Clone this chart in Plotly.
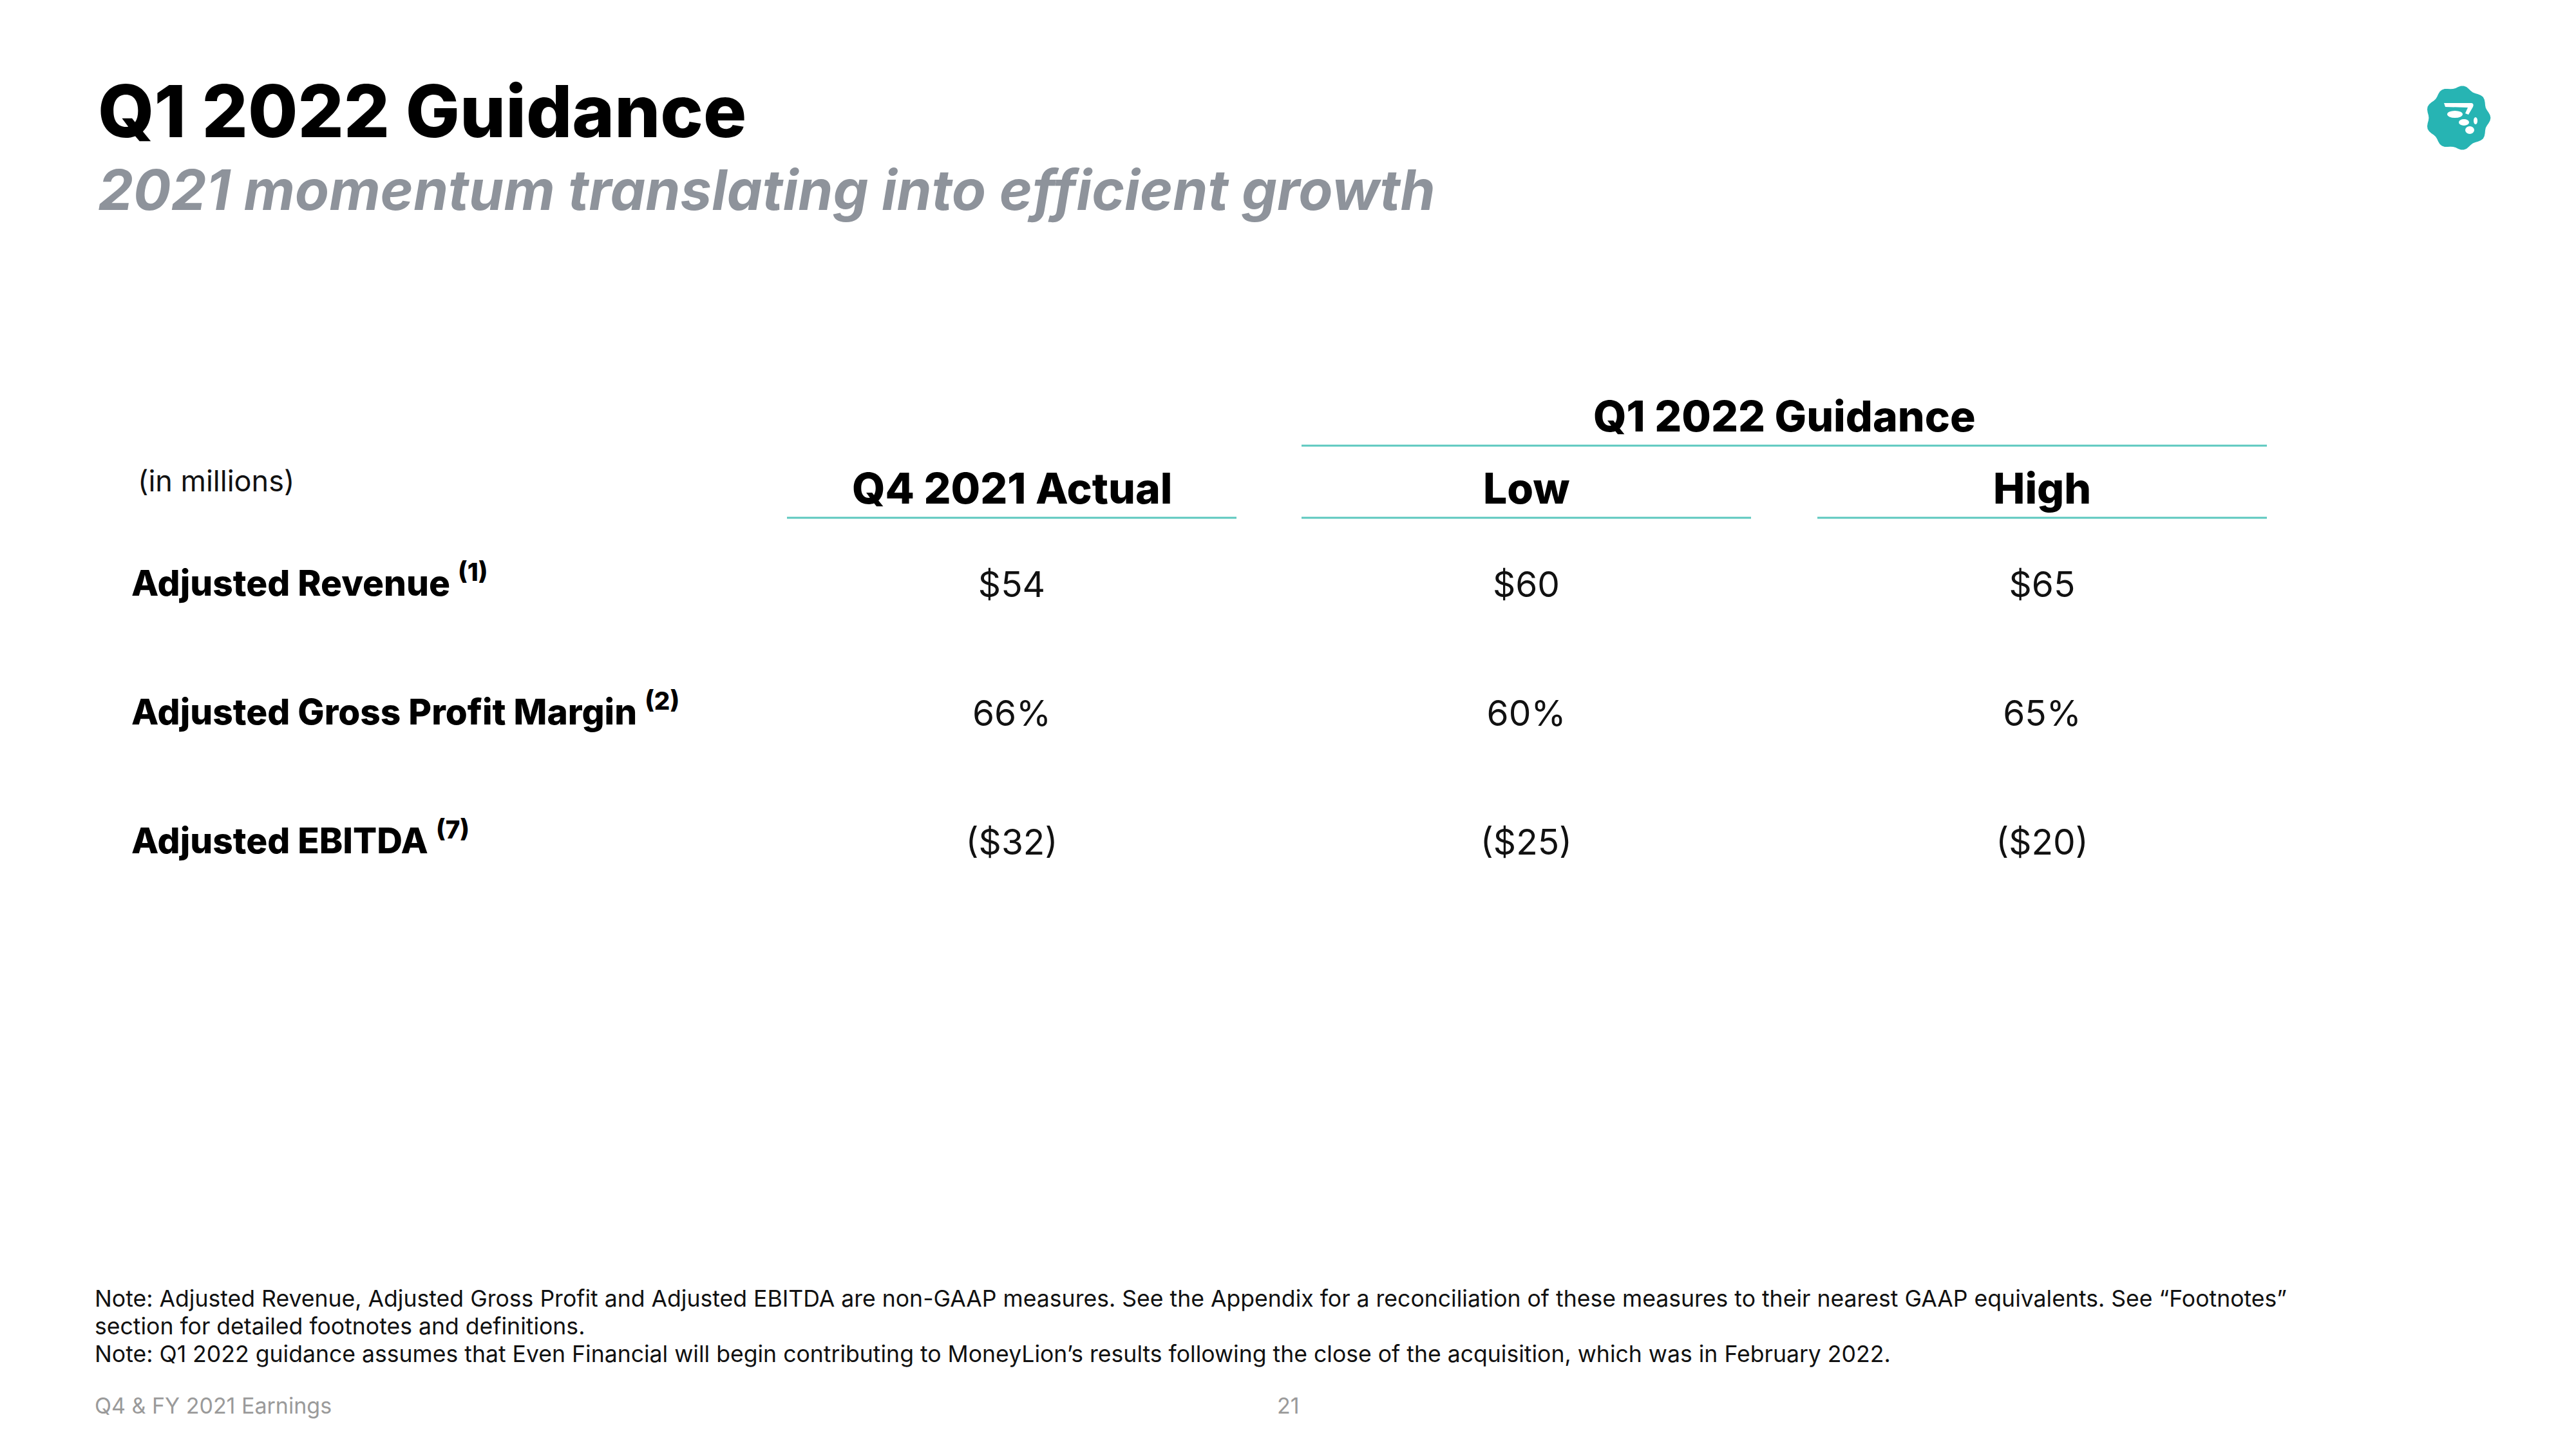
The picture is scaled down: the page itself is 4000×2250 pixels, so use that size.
import math
import plotly.graph_objects as go

# ---------------- data ----------------
columns = ["Q4 2021 Actual", "Low", "High"]
group_header = "Q1 2022 Guidance"
row_labels = ["Adjusted Revenue", "Adjusted Gross Profit Margin", "Adjusted EBITDA"]
row_notes = ["(1)", "(2)", "(7)"]
q4_2021_actual = ["$54", "66%", "($32)"]
guidance_low = ["$60", "60%", "($25)"]
guidance_high = ["$65", "65%", "($20)"]

title = "Q1 2022 Guidance"
subtitle = "2021 momentum translating into efficient growth"
unit_note = "(in millions)"
notes = [
    "Note: Adjusted Revenue, Adjusted Gross Profit and Adjusted EBITDA are non-GAAP measures. See the Appendix for a reconciliation of these measures to their nearest GAAP equivalents. See \u201cFootnotes\u201d",
    "section for detailed footnotes and definitions.",
    "Note: Q1 2022 guidance assumes that Even Financial will begin contributing to MoneyLion\u2019s results following the close of the acquisition, which was in February 2022.",
]
footer_left = "Q4 & FY 2021 Earnings"
footer_page = "21"

# ---------------- layout constants ----------------
W, H = 4000, 2250
PAD = 8  # page body margin
FONT = "Inter"
TEAL_LINE = "#5CC8BF"
col_x = [1571, 2370, 3171]
col_half = 349
row_y = [913, 1113, 1313]
label_dy = -12
header_y = 758
header_line_y = 804
group_y = 646
group_line_y = 692
label_x = 202

fig = go.Figure()

# values table as text traces
for cx, vals in zip(col_x, [q4_2021_actual, guidance_low, guidance_high]):
    fig.add_trace(go.Scatter(
        x=[cx] * len(vals), y=row_y, mode="text", text=vals,
        textposition="middle center",
        textfont=dict(family=FONT, size=55, color="#111111"),
        hoverinfo="skip", showlegend=False,
    ))

ann = []
# title / subtitle
ann.append(dict(x=150, y=172, text=title, xanchor="left", yanchor="middle",
                font=dict(family=FONT, size=112, color="#000000", weight=800)))
ann.append(dict(x=150, y=294, text=f"<i>{subtitle}</i>", xanchor="left", yanchor="middle",
                font=dict(family=FONT, size=87, color="#8E939B", weight=700)))
# unit
ann.append(dict(x=212, y=746, text=unit_note, xanchor="left", yanchor="middle",
                font=dict(family=FONT, size=45, color="#111111")))
# group header
ann.append(dict(x=(col_x[1] + col_x[2]) / 2, y=group_y, text=group_header,
                xanchor="center", yanchor="middle",
                font=dict(family=FONT, size=66, color="#000000", weight=800)))
# column headers
for cx, c in zip(col_x, columns):
    ann.append(dict(x=cx, y=header_y, text=c, xanchor="center", yanchor="middle",
                    font=dict(family=FONT, size=66, color="#000000", weight=800)))
# row labels
for ry, lab, nt in zip(row_y, row_labels, row_notes):
    ann.append(dict(x=label_x, y=ry + label_dy, text=f"{lab} <sup>{nt}</sup>", xanchor="left",
                    yanchor="middle",
                    font=dict(family=FONT, size=55, color="#000000", weight=800)))
# notes
for i, t in enumerate(notes):
    ann.append(dict(x=145, y=2016 + i * 43, text=t, xanchor="left", yanchor="middle",
                    font=dict(family=FONT, size=35.6, color="#111111")))
ann.append(dict(x=145, y=2182, text=footer_left, xanchor="left", yanchor="middle",
                font=dict(family=FONT, size=34, color="#9A9A9A")))
ann.append(dict(x=2000, y=2182, text=footer_page, xanchor="center", yanchor="middle",
                font=dict(family=FONT, size=34, color="#9A9A9A")))
for a in ann:
    a.update(xref="x", yref="y", showarrow=False)

shapes = []
for cx in col_x:
    shapes.append(dict(type="line", x0=cx - col_half, x1=cx + col_half,
                       y0=header_line_y, y1=header_line_y,
                       line=dict(color=TEAL_LINE, width=3)))
shapes.append(dict(type="line", x0=col_x[1] - col_half, x1=col_x[2] + col_half,
                   y0=group_line_y, y1=group_line_y, line=dict(color=TEAL_LINE, width=3)))

# logo badge (decorative)
cx0, cy0, R = 3817, 183, 48
pts = []
for k in range(73):
    th = 2 * math.pi * k / 72
    r = R * (1 + 0.05 * math.cos(9 * th))
    pts.append((cx0 + r * math.cos(th), cy0 + r * math.sin(th)))
path = "M " + " L ".join(f"{px:.1f},{py:.1f}" for px, py in pts) + " Z"
shapes.append(dict(type="path", path=path, fillcolor="#27B4B3", line=dict(width=0)))
white = dict(fillcolor="white", line=dict(width=0))
shapes.append(dict(type="path", path="M 3795,160 L 3838,160 Q 3842,161 3840,166 L 3833,178 L 3828,176 L 3832,167 L 3797,166 Z", **white))
shapes.append(dict(type="circle", x0=3800, x1=3824, y0=172, y1=183, **white))
shapes.append(dict(type="circle", x0=3818, x1=3834, y0=185, y1=195, **white))
shapes.append(dict(type="circle", x0=3841, x1=3847, y0=182, y1=193, **white))
shapes.append(dict(type="circle", x0=3828, x1=3842, y0=196, y1=208, **white))

fig.update_layout(
    width=W - 2 * PAD, height=H - 2 * PAD, margin=dict(l=0, r=0, t=0, b=0),
    paper_bgcolor="white", plot_bgcolor="white",
    xaxis=dict(range=[PAD, W - PAD], visible=False, fixedrange=True),
    yaxis=dict(range=[H - PAD, PAD], visible=False, fixedrange=True),
    annotations=ann, shapes=shapes, showlegend=False,
)
fig.write_html("out.html")
